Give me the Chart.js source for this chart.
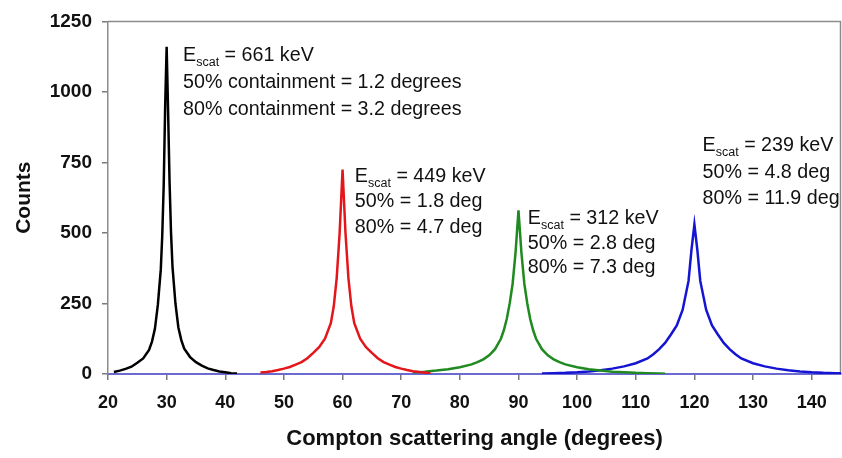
<!DOCTYPE html>
<html><head><meta charset="utf-8">
<script src="https://cdn.jsdelivr.net/npm/chart.js@4.4.0/dist/chart.umd.min.js"></script>
<style>html,body{margin:0;padding:0;background:#fff}</style>
</head><body>
<canvas id="c" width="842" height="458"></canvas>
<script>
// ---- data ----
const blackAngles = [21,22,23,24,25,26,27,27.5,28,28.5,29,29.25,29.5,29.75,30,30.25,30.5,30.75,31,31.5,32,32.5,33,34,35,36,37,38,39,40,41,42];
const blackCounts = [7,12,18,26,40,55,85,115,160,245,370,490,670,950,1160,930,680,500,380,250,165,120,90,60,42,30,20,14,9,6,3,2];

const redAngles = [46,47,48,49,50,51,52,53,54,55,56,57,58,58.5,59,59.5,60,60.5,61,61.5,62,63,64,65,66,67,68,69,70,71,72,73,74,75];
const redCounts = [5,7,10,14,19,25,33,42,56,75,95,125,180,240,340,500,725,500,340,240,180,125,95,75,56,42,33,25,19,14,10,7,5,3];

const greenAngles = [72,74,76,78,80,82,83,84,85,86,87,87.5,88,88.5,89,89.5,90,90.5,91,91.5,92,92.5,93,94,95,96,97,98,100,102,104,106,108,110,112,114,115];
const greenCounts = [6,8,12,17,24,34,42,52,66,88,125,155,195,250,320,430,580,430,320,250,195,155,125,88,66,52,42,34,24,17,12,8,6,4,3,2,1];

const blueAngles = [94,96,98,100,102,104,106,108,110,112,113,114,115,116,117,118,119,119.5,120,120.5,121,122,123,124,125,126,127,128,130,132,134,136,138,140,142,144,145];
const blueCounts = [2,3,4,6,9,13,19,27,38,55,70,88,110,140,172,228,330,440,530,440,330,228,172,140,110,88,70,55,38,27,19,13,9,6,4,3,3];

const xTicks = [20,30,40,50,60,70,80,90,100,110,120,130,140];
const yTicks = [0,250,500,750,1000,1250];

const annoEnergies = ['661 keV','449 keV','312 keV','239 keV'];
const annoLine2 = ['50% containment = 1.2 degrees','50% = 1.8 deg','50% = 2.8 deg','50% = 4.8 deg'];
const annoLine3 = ['80% containment = 3.2 degrees','80% = 4.7 deg','80% = 7.3 deg','80% = 11.9 deg'];
const annoX = [32.8, 62.1, 91.6, 121.4];
const annoY = [1109, 682, 531, 790];
const annoGap = [27, 25.5, 24.5, 26.5];

const FONT = "'Liberation Sans', Arial, sans-serif";

function pts(xs, ys){ return xs.map((x,i)=>({x:x, y:ys[i]})); }

const framePlugin = {
  id:'frame',
  beforeDatasetsDraw(chart){
    const {ctx, chartArea:a} = chart;
    ctx.save();
    ctx.strokeStyle = '#8c8c8c';
    ctx.lineWidth = 1.5;
    ctx.beginPath();
    ctx.moveTo(a.left, a.top); ctx.lineTo(a.right-0.5, a.top); ctx.lineTo(a.right-0.5, a.bottom);
    ctx.stroke();
    ctx.restore();
  }
};

const annoPlugin = {
  id:'anno',
  afterDatasetsDraw(chart){
    const {ctx} = chart;
    const xs = chart.scales.x, ys = chart.scales.y;
    ctx.save();
    ctx.fillStyle = '#111';
    ctx.textBaseline = 'alphabetic';
    ctx.textAlign = 'left';
    for (let i=0;i<annoX.length;i++){
      const px = xs.getPixelForValue(annoX[i]);
      const py = ys.getPixelForValue(annoY[i]);
      ctx.font = '19.7px ' + FONT;
      ctx.fillText('E', px, py);
      let w = ctx.measureText('E').width;
      ctx.font = '12.5px ' + FONT;
      ctx.fillText('scat', px + w, py + 5);
      w += ctx.measureText('scat').width;
      ctx.font = '19.7px ' + FONT;
      ctx.fillText(' = ' + annoEnergies[i], px + w, py);
      ctx.fillText(annoLine2[i], px, py + annoGap[i]);
      ctx.fillText(annoLine3[i], px, py + 2*annoGap[i]);
    }
    ctx.restore();
  }
};

const ds = (label, xs, ys, color) => ({
  label, data: pts(xs, ys), borderColor: color, backgroundColor: color,
  borderWidth: 2.5, pointRadius: 0, tension: 0, fill: false
});

new Chart(document.getElementById('c'), {
  type:'line',
  data:{ datasets:[
    ds('661 keV', blackAngles, blackCounts, '#000000'),
    ds('449 keV', redAngles, redCounts, '#e3161b'),
    ds('312 keV', greenAngles, greenCounts, '#1f8a1f'),
    ds('239 keV', blueAngles, blueCounts, '#1414d2')
  ]},
  options:{
    responsive:false, animation:false,
    layout:{padding:{top:17, right:1, left:0, bottom:0}},
    plugins:{legend:{display:false}, tooltip:{enabled:false}},
    scales:{
      x:{
        type:'linear', min:20, max:145,
        afterBuildTicks(s){ s.ticks = xTicks.map(v=>({value:v})); },
        afterFit(s){ s.height = 84; },
        border:{display:true, color:'#6a6ad0', width:2},
        grid:{drawOnChartArea:false, drawTicks:true, tickLength:6, color:'#7a7a7a', lineWidth:1.5},
        ticks:{color:'#111', padding:12, maxRotation:0, font:{family:FONT, size:18, weight:'bold'},
               callback:(v)=>String(v)},
        title:{display:true, text:'Compton scattering angle (degrees)', color:'#111',
               font:{family:FONT, size:22, weight:'bold'}, padding:{top:0,bottom:6}}
      },
      y:{
        type:'linear', min:0, max:1250,
        afterBuildTicks(s){ s.ticks = yTicks.map(v=>({value:v})); },
        afterFit(s){ s.width = 108; },
        border:{display:true, color:'#8c8c8c', width:1.5},
        grid:{drawOnChartArea:false, drawTicks:true, tickLength:6, color:'#7a7a7a', lineWidth:1.5},
        ticks:{color:'#111', padding:10, font:{family:FONT, size:19, weight:'bold'},
               callback:(v)=>String(v)},
        title:{display:true, text:'Counts', color:'#111',
               font:{family:FONT, size:21, weight:'bold'}, padding:{top:12,bottom:0}}
      }
    }
  },
  plugins:[framePlugin, annoPlugin]
});
</script>
</body></html>
